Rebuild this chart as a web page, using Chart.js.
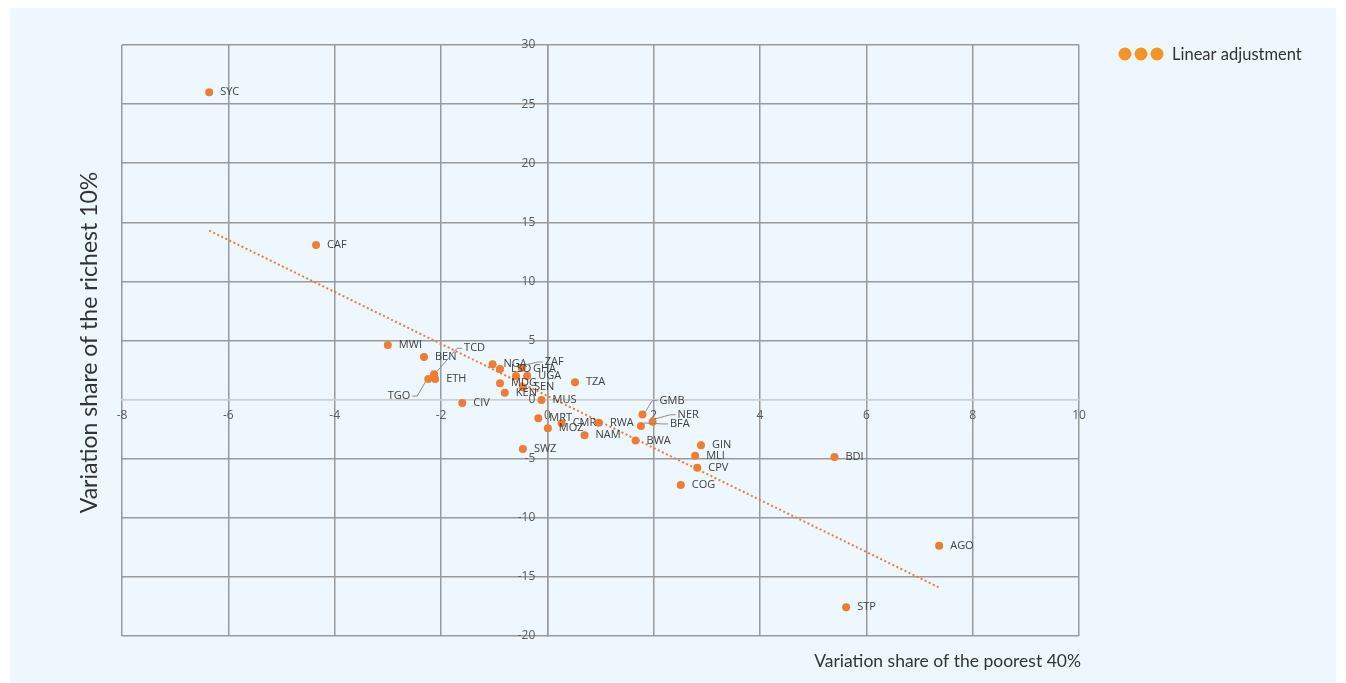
<!DOCTYPE html>
<html>
<head>
<meta charset="utf-8">
<script src="https://cdn.jsdelivr.net/npm/chart.js@4.4.1/dist/chart.umd.min.js"></script>
<style>
    body { margin: 0; background: #ffffff; }
    #wrap { position: absolute; left: 10px; top: 8px; width: 1326px; height: 675px; background: #eef7fd; }
</style>
</head>
<body>
<div id="wrap"><canvas id="chart"></canvas></div>
<script>
// country codes and their variation of income share (percentage points)
const countries = ['SYC', 'CAF', 'MWI', 'BEN', 'TCD', 'ETH', 'TGO', 'CIV', 'NGA', 'LSO', 'ZAF', 'GHA',
    'UGA', 'MDG', 'KEN', 'SEN', 'TZA', 'MUS', 'MRT', 'CMR', 'MOZ', 'RWA', 'NAM', 'SWZ',
    'GMB', 'NER', 'BFA', 'BWA', 'GIN', 'MLI', 'CPV', 'COG', 'BDI', 'AGO', 'STP'];
const poorest40 = [-6.36, -4.35, -3.0, -2.32, -2.13, -2.11, -2.24, -1.60, -1.03, -0.89, -0.48, -0.59,
    -0.38, -0.89, -0.80, -0.46, 0.52, -0.11, -0.17, 0.27, 0.01, 0.97, 0.70, -0.46,
    1.79, 1.98, 1.76, 1.66, 2.89, 2.78, 2.82, 2.51, 5.40, 7.37, 5.62];
const richest10 = [26.0, 13.08, 4.62, 3.6, 2.14, 1.74, 1.74, -0.29, 2.99, 2.59, 2.67, 2.0,
    2.0, 1.38, 0.58, 1.04, 1.46, -0.03, -1.58, -2.0, -2.43, -1.95, -3.02, -4.18,
    -1.25, -1.87, -2.23, -3.47, -3.87, -4.74, -5.76, -7.22, -4.86, -12.36, -17.57];

// linear adjustment, end points
const trendX = [-6.36, 7.37];
const trendY = [14.3, -15.9];

const xTicks = { min: -8, max: 10, step: 2 };
const yTicks = { min: -20, max: 30, step: 5 };

const ORANGE = '#ee7d31';
const GRID = '#9a9a9a';
const ZERO_LINE = '#cfcfcf';

// labels that were moved off their point (pixel offsets), some with a leader line
const labelShift = {
    TCD: { dx: 30, dy: -26, leader: true },
    TGO: { dx: -18, dy: 17, align: 'right', leader: true },
    ZAF: { dx: 23, dy: -6, leader: true },
    GHA: { dx: 17, dy: -7 },
    GMB: { dx: 17, dy: -14, leader: true },
    NER: { dx: 25, dy: -7, leader: true },
    BFA: { dx: 29, dy: -2, leader: true }
};

const points = countries.map((c, i) => ({ x: poorest40[i], y: richest10[i] }));
const trend = trendX.map((x, i) => ({ x: x, y: trendY[i] }));

// Country codes next to the points
const pointLabels = {
    id: 'pointLabels',
    afterDatasetsDraw(chart) {
        const ctx = chart.ctx;
        const meta = chart.getDatasetMeta(1);
        ctx.save();
        ctx.font = '11px "Open Sans"';
        ctx.fillStyle = '#404040';
        ctx.textBaseline = 'middle';
        meta.data.forEach((el, i) => {
            const s = labelShift[countries[i]] || { dx: 11, dy: 0 };
            const lx = el.x + s.dx;
            const ly = el.y + s.dy;
            ctx.textAlign = s.align || 'left';
            ctx.fillText(countries[i], lx, ly);
            if (s.leader) {
                const dir = s.align === 'right' ? 1 : -1;
                ctx.strokeStyle = '#8c8c8c';
                ctx.lineWidth = 1;
                ctx.beginPath();
                ctx.moveTo(lx + dir * 2, ly);
                ctx.lineTo(lx + dir * 7, ly);
                ctx.lineTo(el.x - dir * 3, el.y + (s.dy < 0 ? -3 : 3));
                ctx.stroke();
            }
        });
        ctx.restore();
    }
};

// Axis titles and the legend
const extras = {
    id: 'extras',
    afterDraw(chart) {
        const ctx = chart.ctx;
        const area = chart.chartArea;
        ctx.save();
        ctx.fillStyle = '#333333';

        ctx.font = '17.5px Lato';
        ctx.textAlign = 'right';
        ctx.textBaseline = 'middle';
        ctx.fillText('Variation share of the poorest 40%', area.right + 2, area.bottom + 25);

        ctx.save();
        ctx.translate(80, (area.top + area.bottom) / 2 + 2);
        ctx.rotate(-Math.PI / 2);
        ctx.textAlign = 'center';
        ctx.font = '23px Lato';
        ctx.fillText('Variation share of the richest 10%', 0, 0);
        ctx.restore();

        // legend: dotted trend line shown as three dots
        ctx.fillStyle = '#f39423';
        [1115, 1131, 1147].forEach(cx => {
            ctx.beginPath();
            ctx.arc(cx, 46, 6.5, 0, Math.PI * 2);
            ctx.fill();
        });
        ctx.fillStyle = '#333333';
        ctx.font = '16.5px Lato';
        ctx.textAlign = 'left';
        ctx.fillText('Linear adjustment', 1162, 47);
        ctx.restore();
    }
};

const tickFont = { family: 'Open Sans', size: 12 };

new Chart(document.getElementById('chart'), {
    type: 'scatter',
    data: {
        datasets: [
            {
                type: 'line',
                label: 'Linear adjustment',
                data: trend,
                borderColor: ORANGE,
                borderWidth: 2,
                borderDash: [2, 2.5],
                pointRadius: 0,
                fill: false
            },
            {
                label: 'Countries',
                data: points,
                backgroundColor: ORANGE,
                borderColor: ORANGE,
                pointRadius: 4,
                borderWidth: 0
            }
        ]
    },
    options: {
        responsive: true,
        maintainAspectRatio: false,
        animation: false,
        layout: { padding: { left: 112, top: 37, right: 257, bottom: 47 } },
        plugins: {
            legend: { display: false },
            tooltip: { enabled: false }
        },
        scales: {
            x: {
                type: 'linear',
                min: xTicks.min,
                max: xTicks.max,
                position: { y: 0 },
                ticks: { stepSize: xTicks.step, color: '#595959', font: tickFont, padding: 9 },
                grid: { color: GRID, lineWidth: 1.5, drawTicks: false },
                border: { color: ZERO_LINE, width: 1.5 }
            },
            y: {
                type: 'linear',
                min: yTicks.min,
                max: yTicks.max,
                position: { x: 0 },
                // labels sit left of the x = 0 line
                ticks: { stepSize: yTicks.step, color: '#595959', font: tickFont, callback: v => v + '\u2003' },
                grid: {
                    color: c => (c.tick && c.tick.value === 0 ? ZERO_LINE : GRID),
                    lineWidth: 1.5,
                    drawTicks: false
                },
                border: { color: GRID, width: 1.5 }
            }
        }
    },
    plugins: [pointLabels, extras]
});
</script>
</body>
</html>
